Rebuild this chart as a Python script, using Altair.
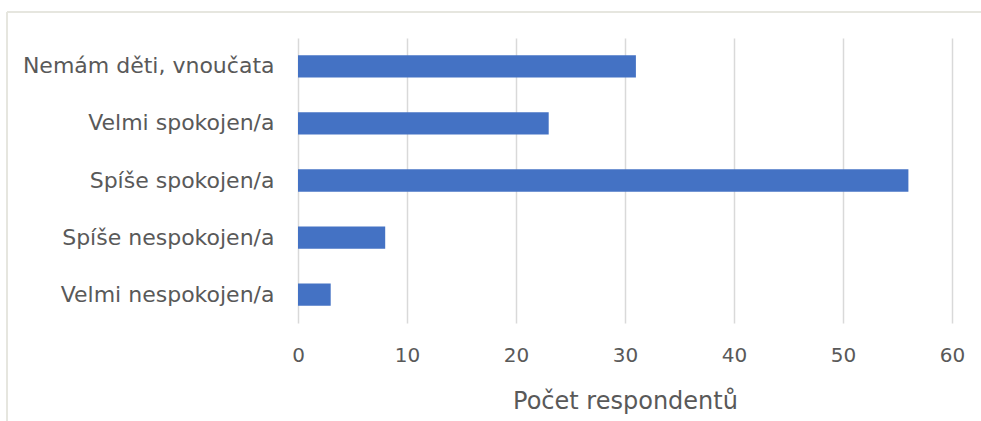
import altair as alt
import pandas as pd

# Survey answers and respondent counts
categories = [
    "Nemám děti, vnoučata",
    "Velmi spokojen/a",
    "Spíše spokojen/a",
    "Spíše nespokojen/a",
    "Velmi nespokojen/a",
]
counts = [31, 23, 56, 8, 3]
x_ticks = [0, 10, 20, 30, 40, 50, 60]

df = pd.DataFrame({"odpoved": categories, "pocet": counts})

FONT = "DejaVu Sans"
TEXT = "#595959"

bars = alt.Chart(df).mark_bar(color="#4472C4").encode(
    x=alt.X(
        "pocet:Q",
        scale=alt.Scale(domain=[0, 60], nice=False),
        axis=alt.Axis(
            values=x_ticks,
            title="Počet respondentů",
            grid=True,
            gridColor="#d9d9d9",
            gridWidth=1.5,
            domain=False,
            ticks=False,
            labelFlush=False,
            labelPadding=22,
            labelFont=FONT,
            labelFontSize=20,
            labelColor=TEXT,
            titleFont=FONT,
            titleFontSize=24,
            titleFontWeight="normal",
            titleColor=TEXT,
            titlePadding=24,
        ),
    ),
    y=alt.Y(
        "odpoved:N",
        sort=categories,
        scale=alt.Scale(paddingInner=0.61, paddingOuter=0.3),
        axis=alt.Axis(
            title=None,
            domain=False,
            ticks=False,
            labelLimit=0,
            labelPadding=24,
            labelFont=FONT,
            labelFontSize=22,
            labelColor=TEXT,
        ),
    ),
)

# Thin outer frame around the whole figure
frame_top = alt.Chart(df).mark_rule(color="#e6e6df", strokeWidth=1.5).encode(
    x=alt.value(-291), x2=alt.value(690), y=alt.value(-26)
)
frame_left = alt.Chart(df).mark_rule(color="#e6e6df", strokeWidth=1.5).encode(
    x=alt.value(-291), y=alt.value(-26), y2=alt.value(400)
)

chart = (
    alt.layer(frame_top, frame_left, bars)
    .properties(
        width=654,
        height=285,
        padding={"left": 298, "top": 38, "right": 29, "bottom": 98},
        autosize=alt.AutoSizeParams(type="none"),
        background="white",
    )
    .configure_view(stroke=None)
)

chart.save("out.html", embed_options={"renderer": "svg", "actions": False})
